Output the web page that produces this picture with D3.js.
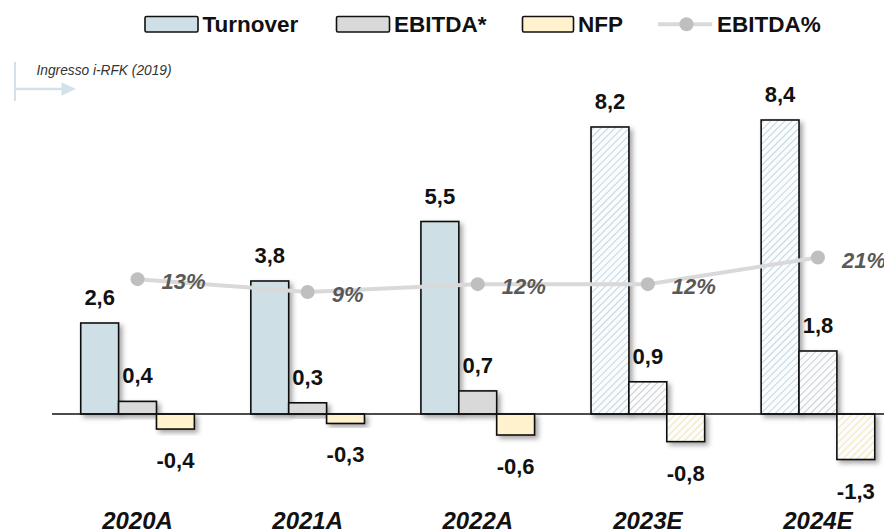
<!DOCTYPE html>
<html>
<head>
<meta charset="utf-8">
<script src="https://cdn.jsdelivr.net/npm/d3@7/dist/d3.min.js"></script>
<style>
  html, body { margin: 0; padding: 0; background: #fff; }
  svg { display: block; }
  text { font-family: "Liberation Sans", Arial, sans-serif; }
</style>
</head>
<body>
<svg id="chart" width="884" height="530"></svg>
<script>
// ---------- data ----------
const categories = ["2020A", "2021A", "2022A", "2023E", "2024E"];
const forecast = [false, false, false, true, true];
const seriesNames = ["Turnover", "EBITDA*", "NFP"];
const turnover = [2.6, 3.8, 5.5, 8.2, 8.4];
const ebitda = [0.36, 0.32, 0.66, 0.92, 1.8];
const nfp = [-0.43, -0.27, -0.6, -0.79, -1.3];
const ebitdaPct = [13.4, 9.0, 11.7, 11.7, 20.8];
const lineName = "EBITDA%";
const annotation = "Ingresso i-RFK (2019)";

// ---------- setup ----------
const W = 884, H = 530;
const svg = d3.select("#chart");
const fills = ["#cfdfe6", "#d9d9d9", "#fff2cc"];
const hatch = ["#b9d3df", "#c8c8c8", "#f6e2a8"];
const loc = d3.formatLocale({decimal: ",", thousands: ".", grouping: [3], currency: ["", "€"], minus: "-"});
const fmt1 = loc.format(".1f");
const fmtPct = v => loc.format(".0f")(v) + "%";

const defs = svg.append("defs");
const f = defs.append("filter").attr("id", "shadow").attr("x", "-20%").attr("y", "-20%").attr("width", "160%").attr("height", "160%");
f.append("feDropShadow").attr("dx", 3).attr("dy", 3).attr("stdDeviation", 2.5)
  .attr("flood-color", "#000").attr("flood-opacity", 0.35);
seriesNames.forEach((s, i) => {
  const p = defs.append("pattern").attr("id", "hatch" + i)
    .attr("patternUnits", "userSpaceOnUse").attr("width", 5).attr("height", 5)
    .attr("patternTransform", "rotate(45)");
  p.append("rect").attr("width", 5).attr("height", 5).attr("fill", "#fbfcfd");
  p.append("line").attr("x1", 0).attr("y1", 0).attr("x2", 0).attr("y2", 5)
    .attr("stroke", hatch[i]).attr("stroke-width", 1.8);
});

const x0 = d3.scaleBand().domain(categories).range([52.5, 903]).paddingInner(0.332).paddingOuter(0.166);
const x1 = d3.scaleBand().domain(seriesNames).range([0, x0.bandwidth()]);
const y = d3.scaleLinear().domain([-1.3, 8.4]).range([459.5, 120]);
const y2 = d3.scaleLinear().domain([0, 100]).range([318.3, 26.3]);

const rows = categories.map((c, i) => ({
  cat: c, fc: forecast[i],
  vals: [turnover[i], ebitda[i], nfp[i]],
  pct: ebitdaPct[i]
}));

// ---------- bars ----------
const g = svg.append("g");
rows.forEach(r => {
  r.vals.forEach((v, si) => {
    g.append("rect")
      .attr("x", x0(r.cat) + x1(seriesNames[si]))
      .attr("width", x1.bandwidth())
      .attr("y", y(Math.max(0, v)))
      .attr("height", Math.abs(y(v) - y(0)))
      .attr("fill", r.fc ? `url(#hatch${si})` : fills[si])
      .attr("stroke", "#111").attr("stroke-width", 1.6)
      .attr("filter", "url(#shadow)");
  });
});

// axis baseline
svg.append("line").attr("x1", 52).attr("x2", W).attr("y1", y(0)).attr("y2", y(0))
  .attr("stroke", "#111").attr("stroke-width", 1.5);

// value labels
rows.forEach(r => {
  r.vals.forEach((v, si) => {
    const cx = x0(r.cat) + x1(seriesNames[si]) + x1.bandwidth() / 2;
    const ty = v >= 0 ? y(v) - 18 : y(v) + 39;
    svg.append("text").attr("x", cx).attr("y", ty)
      .attr("text-anchor", "middle").attr("font-size", 22).attr("font-weight", "bold")
      .attr("fill", "#111").text(fmt1(v));
  });
});

// ---------- line ----------
const cx = c => x0(c) + x0.bandwidth() / 2;
svg.append("path").datum(rows)
  .attr("d", d3.line().x(d => cx(d.cat)).y(d => y2(d.pct)))
  .attr("fill", "none").attr("stroke", "#d9d9d9").attr("stroke-width", 4);
svg.selectAll(".dot").data(rows).enter().append("circle")
  .attr("cx", d => cx(d.cat)).attr("cy", d => y2(d.pct)).attr("r", 7).attr("fill", "#bfbfbf");
svg.selectAll(".pct").data(rows).enter().append("text")
  .attr("x", d => cx(d.cat) + 24).attr("y", d => y2(d.pct) + 10)
  .attr("font-size", 22).attr("font-weight", "bold").attr("font-style", "italic")
  .attr("fill", "#595959").text(d => fmtPct(d.pct));

// ---------- category labels ----------
svg.selectAll(".cat").data(categories).enter().append("text")
  .attr("x", d => cx(d)).attr("y", 529)
  .attr("text-anchor", "middle").attr("font-size", 24).attr("font-weight", "bold").attr("font-style", "italic")
  .attr("fill", "#111").text(d => d);

// ---------- legend ----------
const lg = svg.append("g");
const legendItems = [
  {name: seriesNames[0], x: 145, w: 53, i: 0},
  {name: seriesNames[1], x: 336.5, w: 53, i: 1},
  {name: seriesNames[2], x: 522.5, w: 51, i: 2}
];
legendItems.forEach(it => {
  lg.append("rect").attr("x", it.x).attr("y", 16.5).attr("width", it.w).attr("height", 15.5)
    .attr("rx", 1.5).attr("fill", fills[it.i]).attr("stroke", "#111").attr("stroke-width", 1.6);
  lg.append("text").attr("x", it.x + it.w + 4.5).attr("y", 32.3)
    .attr("font-size", 22.5).attr("font-weight", "bold").attr("fill", "#111").text(it.name);
});
lg.append("line").attr("x1", 658).attr("x2", 712).attr("y1", 24.3).attr("y2", 24.3)
  .attr("stroke", "#d9d9d9").attr("stroke-width", 4);
lg.append("circle").attr("cx", 686.5).attr("cy", 24.3).attr("r", 7).attr("fill", "#bfbfbf");
lg.append("text").attr("x", 717).attr("y", 32.3)
  .attr("font-size", 22.5).attr("font-weight", "bold").attr("fill", "#111").text(lineName);

// ---------- annotation ----------
const an = svg.append("g");
an.append("line").attr("x1", 15).attr("x2", 15).attr("y1", 62).attr("y2", 101)
  .attr("stroke", "#d3e2ea").attr("stroke-width", 2);
an.append("line").attr("x1", 15).attr("x2", 63).attr("y1", 89).attr("y2", 89)
  .attr("stroke", "#d3e2ea").attr("stroke-width", 2.5);
an.append("path").attr("d", "M61.5,82.3 L76,89 L61.5,95.7 Z").attr("fill", "#d3e2ea");
an.append("text").attr("x", 36.5).attr("y", 75).attr("font-size", 15).attr("font-style", "italic")
  .attr("fill", "#333").attr("textLength", 135).attr("lengthAdjust", "spacingAndGlyphs").text(annotation);
</script>
</body>
</html>
